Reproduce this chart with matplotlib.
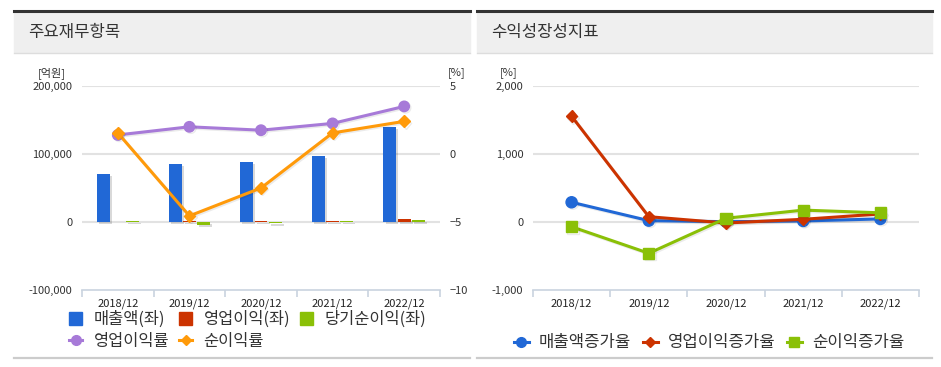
import numpy as np
import matplotlib
matplotlib.use("Agg")
import matplotlib.pyplot as plt
import matplotlib.patheffects as pe
from matplotlib.patches import Rectangle, Patch
from matplotlib.lines import Line2D

plt.rcParams['font.family'] = ['Noto Sans CJK KR', 'DejaVu Sans']

# data
years = ['2018/12', '2019/12', '2020/12', '2021/12', '2022/12']
sales = [70100, 85700, 87700, 97500, 139700]          # 매출액 (억원)
op_profit = [np.nan, 1800, 1600, 2100, 4900]          # 영업이익
net_profit = [1100, -3900, -2200, 1500, 3400]         # 당기순이익
op_margin = [1.4, 2.0, 1.75, 2.25, 3.5]               # 영업이익률 (%)
net_margin = [1.55, -4.55, -2.5, 1.55, 2.4]           # 순이익률 (%)

sales_growth = [290, 20, 5, 15, 45]                   # 매출액증가율
op_growth = [1555, 78, -15, 40, 118]                  # 영업이익증가율
net_growth = [-70, -460, 55, 175, 135]                # 순이익증가율

W, H = 941, 367
fig = plt.figure(figsize=(W / 100, H / 100), dpi=100)


def box(x0, y0, x1, y1):
    # pixel box (top-left origin) -> figure rect
    return [x0 / W, 1 - y1 / H, (x1 - x0) / W, (y1 - y0) / H]


def panel(x0, x1, title):
    fig.patches.append(Rectangle((x0 / W, 1 - 52 / H), (x1 - x0) / W, 41 / H,
                                 transform=fig.transFigure, color='#efefef', zorder=0))
    fig.lines.append(Line2D([x0 / W, x1 / W], [1 - 11 / H] * 2, transform=fig.transFigure,
                            color='#333333', lw=2.2))
    fig.lines.append(Line2D([x0 / W, x1 / W], [1 - 52.5 / H] * 2, transform=fig.transFigure,
                            color='#dddddd', lw=1))
    fig.lines.append(Line2D([x0 / W, x1 / W], [1 - 358 / H] * 2, transform=fig.transFigure,
                            color='#cccccc', lw=1.6))
    fig.text((x0 + 14) / W, 1 - 33 / H, title, fontsize=12, color='#333333', va='center')


panel(14, 470, '주요재무항목')
panel(477, 932, '수익성장성지표')

axis_col = '#c9d3df'
shadow_line = [pe.SimpleLineShadow(offset=(1, -1), shadow_color='black', alpha=0.08), pe.Normal()]
shadow_bar = [pe.SimplePatchShadow(offset=(1.5, -1.5), shadow_rgbFace='black', alpha=0.15), pe.Normal()]


def style_ax(ax, grid_vals):
    for s in ['top', 'left', 'right']:
        ax.spines[s].set_visible(False)
    ax.spines['bottom'].set_color(axis_col)
    ax.spines['bottom'].set_linewidth(1.2)
    ax.set_xlim(-0.5, 4.5)
    ax.set_xticks(range(5))
    ax.set_xticklabels(years, fontsize=8, color='#222222')
    ax.set_xticks(np.arange(-0.5, 5, 1), minor=True)
    ax.tick_params(axis='x', which='major', length=0, pad=6)
    ax.tick_params(axis='x', which='minor', length=5, color=axis_col, width=1.2)
    ax.tick_params(axis='y', length=0, labelsize=8, labelcolor='#333333', pad=7)
    for v in grid_vals:
        ax.axhline(v, color='#e2e2e2', lw=1.5, zorder=0)


# left chart
ax1 = fig.add_axes(box(82, 86, 440, 290))
style_ax(ax1, [0, 100000, 200000])
ax1.set_ylim(-100000, 200000)
ax1.set_yticks([-100000, 0, 100000, 200000])
ax1.set_yticklabels(['-100,000', '0', '100,000', '200,000'])
x = np.arange(5)
bw = 0.18
b1 = ax1.bar(x - 0.2, sales, bw, color='#2168d6', zorder=2)
b2 = ax1.bar(x, op_profit, bw, color='#cc3300', zorder=2)
b3 = ax1.bar(x + 0.2, net_profit, bw, color='#8ac007', zorder=2)
for bars in (b1, b2, b3):
    for r in bars:
        r.set_path_effects(shadow_bar)

ax1b = ax1.twinx()
for s in ['top', 'left', 'right', 'bottom']:
    ax1b.spines[s].set_visible(False)
ax1b.set_ylim(-10, 5)
ax1b.set_yticks([-10, -5, 0, 5])
ax1b.tick_params(axis='y', length=0, labelsize=8, labelcolor='#333333', pad=7)
l1, = ax1b.plot(x, op_margin, color='#a77ad8', lw=2.2, marker='o', ms=7.5,
                path_effects=shadow_line)
l2, = ax1b.plot(x, net_margin, color='#ff9a0a', lw=2.2, marker='D', ms=6,
                path_effects=shadow_line)

fig.text(52 / W, 1 - 73 / H, '[억원]', fontsize=8, color='#333333', ha='center', va='center')
fig.text(457 / W, 1 - 73 / H, '[%]', fontsize=8, color='#333333', ha='center', va='center')

h_sales = Patch(facecolor='#2168d6', edgecolor='#2168d6')
h_op = Patch(facecolor='#cc3300', edgecolor='#cc3300')
h_net = Patch(facecolor='#8ac007', edgecolor='#8ac007')
h_opm = Line2D([], [], color='#a77ad8', lw=2.2, marker='o', ms=7)
h_netm = Line2D([], [], color='#ff9a0a', lw=2.2, marker='D', ms=5.5)
fig.legend([h_sales, h_opm, h_op, h_netm, h_net],
           ['매출액(좌)', '영업이익률', '영업이익(좌)', '순이익률', '당기순이익(좌)'],
           ncol=3, loc='upper left', bbox_to_anchor=(69 / W, 1 - 311 / H),
           bbox_transform=fig.transFigure, frameon=False, fontsize=11.8,
           handlelength=0.8, handleheight=0.8, handletextpad=0.7,
           columnspacing=0.6, labelspacing=0.3, borderpad=0, borderaxespad=0,
           labelcolor='#333333')

# right chart
ax2 = fig.add_axes(box(533, 86, 919, 290))
style_ax(ax2, [0, 1000, 2000])
ax2.set_ylim(-1000, 2000)
ax2.set_yticks([-1000, 0, 1000, 2000])
ax2.set_yticklabels(['-1,000', '0', '1,000', '2,000'])
ax2.plot(x, sales_growth, color='#2168d6', lw=2.2, marker='o', ms=8, path_effects=shadow_line)
ax2.plot(x, op_growth, color='#cc3300', lw=2.2, marker='D', ms=6, path_effects=shadow_line)
ax2.plot(x, net_growth, color='#8ac007', lw=2.2, marker='s', ms=8, path_effects=shadow_line)
fig.text(509 / W, 1 - 73 / H, '[%]', fontsize=8, color='#333333', ha='center', va='center')

h_sg = Line2D([], [], color='#2168d6', lw=2.2, marker='o', ms=7)
h_og = Line2D([], [], color='#cc3300', lw=2.2, marker='D', ms=5.5)
h_ng = Line2D([], [], color='#8ac007', lw=2.2, marker='s', ms=7)
fig.legend([h_sg, h_og, h_ng], ['매출액증가율', '영업이익증가율', '순이익증가율'],
           ncol=3, loc='center', bbox_to_anchor=(709 / W, 1 - 343 / H),
           bbox_transform=fig.transFigure, frameon=False, fontsize=12,
           handlelength=0.9, handletextpad=0.6, columnspacing=0.7,
           borderpad=0, borderaxespad=0, labelcolor='#333333')

fig.savefig('out.png', dpi=100)
